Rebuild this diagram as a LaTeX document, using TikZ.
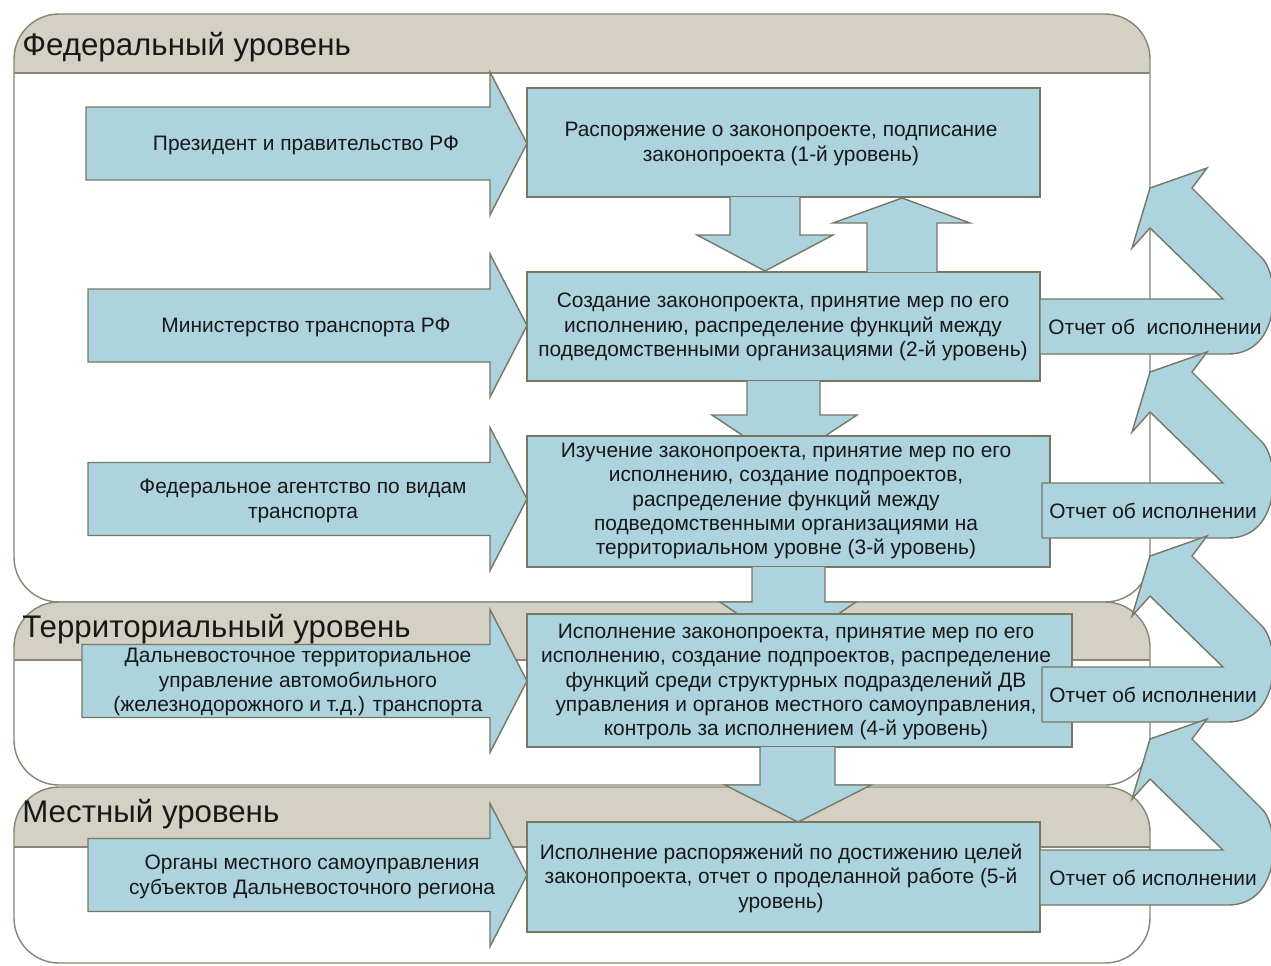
\documentclass[tikz,border=0pt]{standalone}
\usepackage{fontspec}
\setmainfont{Liberation Sans}
\usetikzlibrary{fit}
\definecolor{blfill}{RGB}{172,211,222}
\definecolor{edgec}{RGB}{118,120,102}
\definecolor{tanc}{RGB}{212,209,196}
\definecolor{bandc}{RGB}{135,135,118}
\definecolor{txtc}{RGB}{24,24,24}
\newcommand\bxf{\fontsize{11.9}{13.9}\selectfont}
\newcommand\hdf{\fontsize{17.8}{20}\selectfont}
\tikzset{
  blk/.style={fill=blfill, draw=edgec, line width=0.8pt, line join=miter},
  blkfill/.style={fill=blfill},
  blkline/.style={draw=edgec, line width=0.8pt, line join=miter},
  lbl/.style={text=txtc, font=\bxf, align=center, inner sep=0pt},
  boxn/.style={fill=blfill, draw=edgec, line width=0.8pt, inner sep=0pt},
  hdr/.style={text=txtc, font=\hdf, anchor=base west, inner sep=0pt},
  bandl/.style={draw=bandc, line width=0.8pt},
}
\begin{document}
\begin{tikzpicture}[x=0.02cm,y=-0.02cm]
\useasboundingbox (0,0) rectangle (1271,965);
\fill[white] (0,0) rectangle (1271,965);
% ---------- bands ----------
\foreach \ya/\yh/\yb in {14/73/602, 602/660/785, 787/847/963}{
  \fill[white, rounded corners=0.9cm] (14,\ya) rectangle (1150,\yb);
  \begin{scope}
    \clip[rounded corners=0.9cm] (14,\ya) rectangle (1150,\yb);
    \fill[tanc] (14,\ya) rectangle (1150,\yh);
    \draw[bandl] (14,\yh) -- (1150,\yh);
  \end{scope}
  \draw[bandl, rounded corners=0.9cm] (14,\ya) rectangle (1150,\yb);
}
% ---------- left block arrows ----------
\foreach \c/\xl in {143.5/86, 325.5/88, 499/88, 681/82, 875/88}{
  \draw[blk] (\xl,{\c-36.5}) -- (490,{\c-36.5}) -- (490,{\c-71.5}) -- (527,\c)
     -- (490,{\c+71.5}) -- (490,{\c+36.5}) -- (\xl,{\c+36.5}) -- cycle;
}
\node[lbl] (a1) at (306,145) {Президент и правительство РФ};
\node[lbl] (a2) at (306,327) {Министерство транспорта РФ};
\node[lbl] (a3) at (303,501) {Федеральное агентство по видам\\транспорта};
\node[lbl] (a4) at (298,682) {Дальневосточное территориальное\\управление автомобильного\\(железнодорожного и т.д.) транспорта};
\node[lbl] (a5) at (312,877) {Органы местного самоуправления\\субъектов Дальневосточного региона};
% ---------- boxes and vertical arrows ----------
\node[boxn, fit={(527,88)(1040,197)}] (b1) {};
\node[lbl] (t1) at (781,144) {Распоряжение о законопроекте, подписание\\законопроекта (1-й уровень)};
\node[boxn, fit={(527,272)(1040,381)}] (b2) {};
\node[lbl] (t2) at (783,327) {Создание законопроекта, принятие мер по его\\исполнению, распределение функций между\\подведомственными организациями (2-й уровень)};
% down b1 -> b2
\fill[blkfill] (730,197) -- (730,235) -- (697,235) -- (765,271) -- (833,235) -- (800,235) -- (800,197) -- cycle;
\draw[blkline] (730,197) -- (730,235) -- (697,235) -- (765,271) -- (833,235) -- (800,235) -- (800,197);
% up b2 -> b1
\fill[blkfill] (867,272) -- (867,223) -- (833,223) -- (902,198) -- (970,223) -- (937,223) -- (937,272) -- cycle;
\draw[blkline] (867,272) -- (867,223) -- (833,223) -- (902,198) -- (970,223) -- (937,223) -- (937,272);
% down b2 -> b3
\fill[blkfill] (747,381) -- (747,415) -- (712,415) -- (784,463) -- (857,415) -- (820,415) -- (820,381) -- cycle;
\draw[blkline] (747,381) -- (747,415) -- (712,415) -- (784,463) -- (857,415) -- (820,415) -- (820,381);
\node[boxn, fit={(527,436)(1050,567)}] (b3) {};
\node[lbl] (t3) at (786,501) {Изучение законопроекта, принятие мер по его\\исполнению, создание подпроектов,\\распределение функций между\\подведомственными организациями на\\территориальном уровне (3-й уровень)};
% down b3 -> b4
\fill[blkfill] (752,567) -- (752,602) -- (720,602) -- (788,648) -- (856,602) -- (825,602) -- (825,567) -- cycle;
\draw[blkline] (752,567) -- (752,602) -- (720,602) -- (788,648) -- (856,602) -- (825,602) -- (825,567);
\node[boxn, fit={(527,614)(1072,747)}] (b4) {};
\node[lbl] (t4) at (796,682) {Исполнение законопроекта, принятие мер по его\\исполнению, создание подпроектов, распределение\\функций среди структурных подразделений ДВ\\управления и органов местного самоуправления,\\контроль за исполнением (4-й уровень)};
% down b4 -> b5
\fill[blkfill] (760,747) -- (760,785) -- (725,785) -- (798,822) -- (871,785) -- (835,785) -- (835,747) -- cycle;
\draw[blkline] (760,747) -- (760,785) -- (725,785) -- (798,822) -- (871,785) -- (835,785) -- (835,747);
\node[boxn, fit={(527,822)(1040,932)}] (b5) {};
\node[lbl] (t5) at (781,878) {Исполнение распоряжений по достижению целей\\законопроекта, отчет о проделанной работе (5-й\\уровень)};
% ---------- U-turn report arrows ----------
\foreach \yt/\xo in {299/1040, 483/1042, 667/1042, 850/1040}{
  \draw[blk] (\xo,\yt) -- (1223,\yt) -- (1150,{\yt-71}) -- (1132,{\yt-51}) -- (1150,{\yt-111})
    -- (1207,{\yt-131}) -- (1192,{\yt-111}) -- (1262,{\yt-41})
    .. controls (1280,{\yt-23}) and (1282,{\yt+55}) .. (1228,{\yt+55})
    -- (\xo,{\yt+55}) -- cycle;
}
\node[lbl] (r1) at (1155,327) {Отчет об\ \ исполнении};
\node[lbl] (r2) at (1153,511) {Отчет об исполнении};
\node[lbl] (r3) at (1153,695) {Отчет об исполнении};
\node[lbl] (r4) at (1153,878) {Отчет об исполнении};
% ---------- band headers ----------
\node[hdr] (h1) at (22,55) {Федеральный уровень};
\node[hdr] (h2) at (22,637) {Территориальный уровень};
\node[hdr] (h3) at (22,822) {Местный уровень};
\end{tikzpicture}
\end{document}
